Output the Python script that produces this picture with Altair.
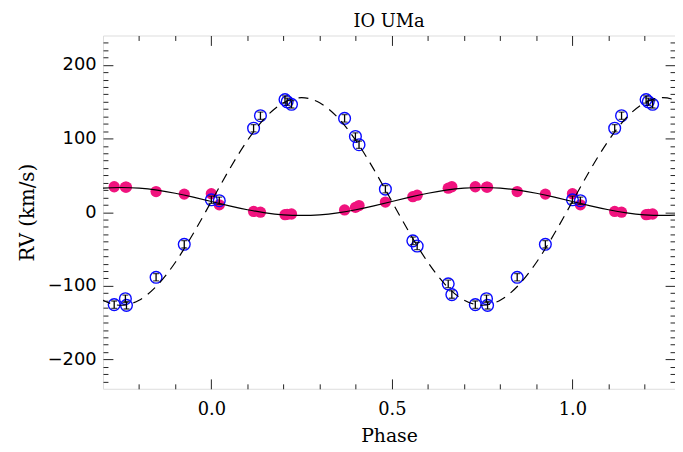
import altair as alt
import pandas as pd

# Observed orbital phases (one cycle) and radial velocities (km/s)
phase = [0.000, 0.022, 0.117, 0.136, 0.204, 0.210, 0.222, 0.369, 0.399, 0.409,
         0.482, 0.558, 0.570, 0.656, 0.666, 0.731, 0.762, 0.765, 0.847, 0.925]
rv_primary = [25.0, 10.0, 1.0, 0.0, -3.5, -3.0, -2.5, 3.0, 6.5, 9.0,
              13.7, 21.0, 23.0, 32.5, 34.5, 34.5, 34.0, 34.0, 28.0, 24.5]
rv_secondary = [16.8, 15.5, 114.0, 131.0, 153.0, 150.0, 146.5, 127.4, 102.8, 91.6,
                31.2, -39.0, -46.0, -97.4, -112.0, -125.7, -117.6, -126.6, -88.5, -43.7]
err_secondary = [5, 5, 5, 5, 5, 5, 5, 5, 5, 5,
                 5, 5, 5, 5, 5, 5, 5, 5, 5, 5]

# Orbit solution curves (one cycle)
model_phase = [0.00, 0.05, 0.10, 0.15, 0.20, 0.25, 0.30, 0.35, 0.40, 0.45,
               0.50, 0.55, 0.60, 0.65, 0.70, 0.75, 0.80, 0.85, 0.90, 0.95]
model_primary = [14.5, 8.6, 3.3, -0.9, -3.6, -4.5, -3.6, -0.9, 3.3, 8.6,
                 14.5, 20.4, 25.7, 29.9, 32.6, 33.5, 32.6, 29.9, 25.7, 20.4]
model_secondary = [14.5, 58.1, 97.4, 128.6, 148.6, 155.5, 148.6, 128.6, 97.4, 58.1,
                   14.5, -29.1, -68.4, -99.6, -119.6, -126.5, -119.6, -99.6, -68.4, -29.1]

x_major = [0.0, 0.5, 1.0]
x_minor = [-0.2, -0.1, 0.0, 0.1, 0.2, 0.3, 0.4, 0.5, 0.6, 0.7, 0.8, 0.9, 1.0, 1.1, 1.2]
y_major = [-200, -100, 0, 100, 200]
y_minor = list(range(-230, 240, 10))

W, H = 578, 357
X_DOMAIN = [-0.3, 1.284]
Y_DOMAIN = [-240, 240]

rows = []
for p, v1, v2, e in zip(phase, rv_primary, rv_secondary, err_secondary):
    for s in (-1, 0, 1):
        q = round(p + s, 4)
        if -0.3 <= q <= 1.3:
            rows.append({"phase": q, "rv1": v1, "rv2": v2,
                         "lo": v2 - e, "hi": v2 + e})
pts = pd.DataFrame(rows)

crow = []
for s in (-1, 0, 1, 2):
    for p, m1, m2 in zip(model_phase, model_primary, model_secondary):
        q = round(p + s, 4)
        if -0.4 <= q <= 1.4:
            crow.append({"phase": q, "m1": m1, "m2": m2})
curve = pd.DataFrame(crow).sort_values("phase")

xs = alt.Scale(domain=X_DOMAIN, nice=False, zero=False)
ys = alt.Scale(domain=Y_DOMAIN, nice=False, zero=False)

tick_x = {"condition": {"test": "abs(round(datum.value * 10)) % 5 === 0", "value": 10}, "value": 5}
tick_y = {"condition": {"test": "abs(round(datum.value)) % 100 === 0", "value": 10}, "value": 5}

SERIF = "DejaVu Serif"
SANS = "DejaVu Sans"

ax_x_labels = alt.Axis(orient="bottom", values=x_major, format=".1f", ticks=False, domain=False,
                       labelFont=SERIF, labelFontSize=18, labelColor="black", labelPadding=12,
                       title="Phase", titleFont=SERIF, titleFontSize=19, titleFontWeight="normal",
                       titleColor="black", titlePadding=8, grid=False)
ax_y_labels = alt.Axis(orient="left", values=y_major, format="d", ticks=False, domain=False,
                       labelFont=SANS, labelFontSize=18, labelColor="black", labelPadding=7,
                       title="RV (km/s)", titleFont=SERIF, titleFontSize=20, titleFontWeight="normal",
                       titleColor="black", titlePadding=10, grid=False)
ax_x_bottom_in = alt.Axis(orient="top", offset=-H, values=x_minor, labels=False, domain=False,
                          tickSize=tick_x, tickColor="#222", tickWidth=1, title="", grid=False)
ax_x_top_in = alt.Axis(orient="bottom", offset=-H, values=x_minor, labels=False, domain=False,
                       tickSize=tick_x, tickColor="#222", tickWidth=1, title="", grid=False)
ax_y_left_in = alt.Axis(orient="right", offset=-W, values=y_minor, labels=False, domain=False,
                        tickSize=tick_y, tickColor="#222", tickWidth=1, title="", grid=False)
ax_y_right_in = alt.Axis(orient="left", offset=-W, values=y_minor, labels=False, domain=False,
                         tickSize=tick_y, tickColor="#222", tickWidth=1, title="", grid=False)

base_pts = alt.Chart(pts)

pink = base_pts.mark_circle(size=130, color="#f0137e", opacity=1, clip=True).encode(
    x=alt.X("phase:Q", scale=xs, axis=ax_x_labels),
    y=alt.Y("rv1:Q", scale=ys, axis=ax_y_labels),
)

blue = base_pts.mark_point(shape="circle", size=140, color="#0a0aff", strokeWidth=1.4,
                           opacity=1, filled=False, clip=True).encode(
    x=alt.X("phase:Q", scale=xs, axis=ax_x_bottom_in),
    y=alt.Y("rv2:Q", scale=ys, axis=ax_y_left_in),
)

err = base_pts.mark_rule(color="black", strokeWidth=1.3, clip=True).encode(
    x=alt.X("phase:Q", scale=xs, axis=ax_x_top_in),
    y=alt.Y("lo:Q", scale=ys, axis=ax_y_right_in),
    y2="hi:Q",
)

cap_lo = base_pts.mark_tick(color="black", thickness=1.3, size=6, orient="horizontal", clip=True).encode(
    x=alt.X("phase:Q", scale=xs, axis=None),
    y=alt.Y("lo:Q", scale=ys, axis=None),
)
cap_hi = base_pts.mark_tick(color="black", thickness=1.3, size=6, orient="horizontal", clip=True).encode(
    x=alt.X("phase:Q", scale=xs, axis=None),
    y=alt.Y("hi:Q", scale=ys, axis=None),
)

base_curve = alt.Chart(curve)
line1 = base_curve.mark_line(color="black", strokeWidth=1.2, interpolate="natural", clip=True).encode(
    x=alt.X("phase:Q", scale=xs, axis=None),
    y=alt.Y("m1:Q", scale=ys, axis=None),
    order="phase:Q",
)
line2 = base_curve.mark_line(color="black", strokeWidth=1.2, strokeDash=[10, 7],
                             interpolate="natural", clip=True).encode(
    x=alt.X("phase:Q", scale=xs, axis=None),
    y=alt.Y("m2:Q", scale=ys, axis=None),
    order="phase:Q",
)

chart = alt.layer(pink, blue, err, cap_lo, cap_hi, line1, line2).resolve_axis(
    x="independent", y="independent"
).properties(
    width=W, height=H,
    title=alt.TitleParams("IO UMa", font=SERIF, fontSize=18, fontWeight="normal",
                          color="black", anchor="middle", offset=4),
    autosize=alt.AutoSizeParams(type="none"),
    padding={"left": 96, "top": 25.5, "right": 0, "bottom": 55},
).configure_view(
    stroke="#222", strokeWidth=1
).configure(background="white")

chart.save("out.html", embed_options={"renderer": "svg", "actions": False})
